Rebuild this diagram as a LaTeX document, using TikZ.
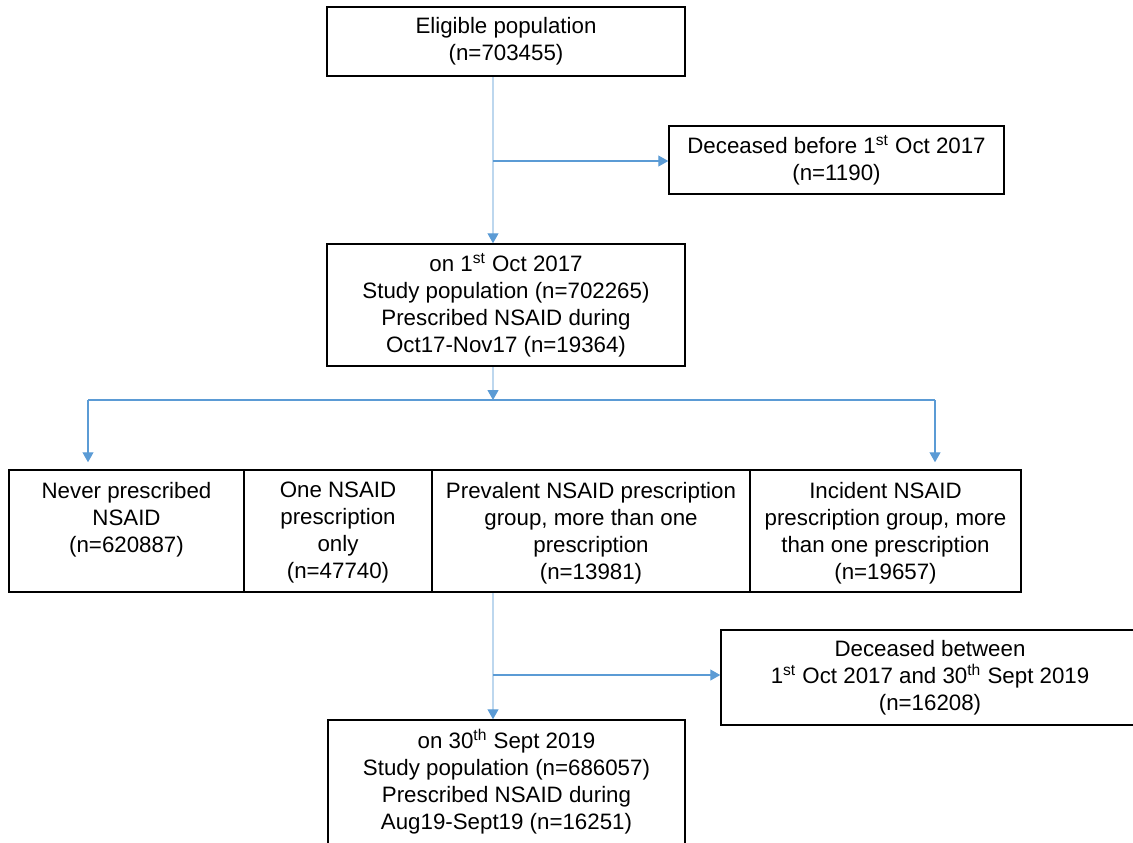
\documentclass[tikz,border=0pt]{standalone}
\usepackage{fontspec}
\setmainfont{Liberation Sans}
\usetikzlibrary{arrows.meta}
\definecolor{linelight}{RGB}{189,215,238}
\definecolor{lineblue}{RGB}{91,155,213}
\newcommand{\celltop}[2]{\parbox[c][49pt][t]{#1}{\centering #2}}

\begin{document}
\begin{tikzpicture}[x=0.5pt, y=-0.5pt,
        every node/.style={font=\fontsize{11.15}{13.5}\selectfont},
        flowbox/.style={draw=black, line width=0.75pt, align=center, inner sep=0pt},
        cellbox/.style={draw=black, line width=0.75pt, inner sep=0pt, minimum height=61pt},
        vline/.style={draw=linelight, line width=0.6pt},
        hline/.style={draw=lineblue, line width=0.6pt},
        tip/.style={-{Triangle[length=5pt, width=5.5pt, color=lineblue]}}]
        \useasboundingbox (0,0) rectangle (1133,842);
        \node[flowbox, minimum width=179pt, minimum height=34.5pt] (elig) at (506,41.5) {Eligible population\\(n=703455)};
        \node[flowbox, minimum width=167.5pt, minimum height=34pt] (dec1) at (836.5,160) {Deceased before 1\textsuperscript{st} Oct 2017\\(n=1190)};
        \node[flowbox, minimum width=179pt, minimum height=61pt] (study1) at (506,305) {on 1\textsuperscript{st} Oct 2017\\Study population (n=702265)\\Prescribed NSAID during\\Oct17-Nov17 (n=19364)};
        \node[cellbox, minimum width=117.5pt] (never) at (126.5,531) {\celltop{117pt}{Never prescribed\\NSAID\\(n=620887)}};
        \node[cellbox, minimum width=94pt] (one) at (338,531) {\celltop{94pt}{One NSAID\\prescription\\only\\(n=47740)}};
        \node[cellbox, minimum width=159pt] (prev) at (591,531) {\celltop{159pt}{Prevalent NSAID prescription\\group, more than one\\prescription\\(n=13981)}};
        \node[cellbox, minimum width=135.5pt] (incid) at (885.5,531) {\celltop{135pt}{Incident NSAID\\prescription group, more\\than one prescription\\(n=19657)}};
        \node[flowbox, minimum width=209pt, minimum height=47.5pt] (dec2) at (930,677.5) {Deceased between\\1\textsuperscript{st} Oct 2017 and 30\textsuperscript{th} Sept 2019\\(n=16208)};
        \node[flowbox, minimum width=178.5pt, minimum height=62pt] (study2) at (506.5,782) {on 30\textsuperscript{th} Sept 2019\\Study population (n=686057)\\Prescribed NSAID during\\Aug19-Sept19 (n=16251)};
        \coordinate (trunk) at (493,0);
        \coordinate (out1) at (493,161);
        \coordinate (split) at (493,400);
        \coordinate (splitL) at (88,400);
        \coordinate (splitR) at (935,400);
        \coordinate (out2) at (493,675);
        \draw[vline, tip] (elig.south -| trunk) -- (study1.north -| trunk);
        \draw[hline, tip] (out1) -- (out1 -| dec1.west);
        \draw[vline, tip] (study1.south -| trunk) -- (split);
        \draw[hline] (splitL) -- (splitR);
        \draw[hline, tip, shorten >=3.5pt] (splitL) -- (splitL |- never.north);
        \draw[hline, tip, shorten >=3.5pt] (splitR) -- (splitR |- incid.north);
        \draw[vline, tip] (prev.south -| trunk) -- (study2.north -| trunk);
        \draw[hline, tip] (out2) -- (out2 -| dec2.west);
\end{tikzpicture}
\end{document}
